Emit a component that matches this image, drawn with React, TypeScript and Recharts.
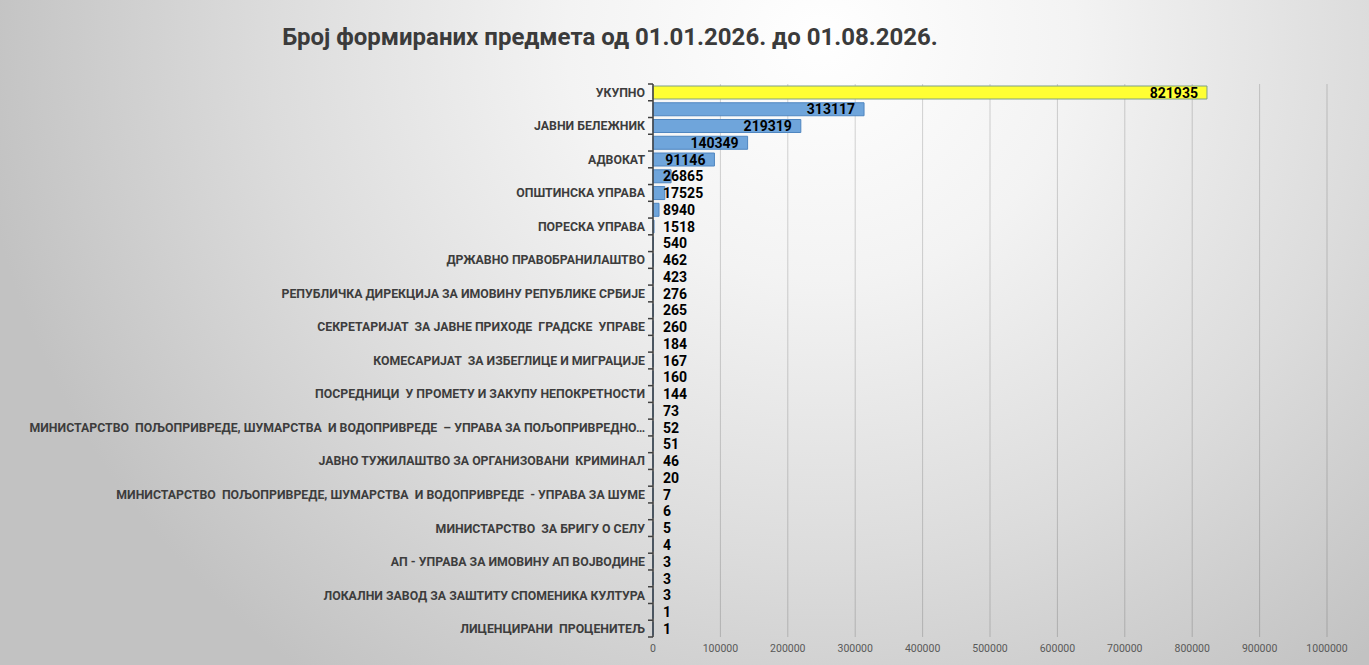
import React from 'react';
import { BarChart, Bar, XAxis, YAxis, CartesianGrid, Cell, LabelList } from 'recharts';

const categories: string[] = [
  'УКУПНО',
  '',
  'ЈАВНИ БЕЛЕЖНИК',
  '',
  'АДВОКАТ',
  '',
  'ОПШТИНСКА УПРАВА',
  '',
  'ПОРЕСКА УПРАВА',
  '',
  'ДРЖАВНО ПРАВОБРАНИЛАШТВО',
  '',
  'РЕПУБЛИЧКА ДИРЕКЦИЈА ЗА ИМОВИНУ РЕПУБЛИКЕ СРБИЈЕ',
  '',
  'СЕКРЕТАРИЈАТ  ЗА ЈАВНЕ ПРИХОДЕ  ГРАДСКЕ  УПРАВЕ',
  '',
  'КОМЕСАРИЈАТ  ЗА ИЗБЕГЛИЦЕ И МИГРАЦИЈЕ',
  '',
  'ПОСРЕДНИЦИ  У ПРОМЕТУ И ЗАКУПУ НЕПОКРЕТНОСТИ',
  '',
  'МИНИСТАРСТВО  ПОЉОПРИВРЕДЕ, ШУМАРСТВА  И ВОДОПРИВРЕДЕ  – УПРАВА ЗА ПОЉОПРИВРЕДНО…',
  '',
  'ЈАВНО ТУЖИЛАШТВО ЗА ОРГАНИЗОВАНИ  КРИМИНАЛ',
  '',
  'МИНИСТАРСТВО  ПОЉОПРИВРЕДЕ, ШУМАРСТВА  И ВОДОПРИВРЕДЕ  - УПРАВА ЗА ШУМЕ',
  '',
  'МИНИСТАРСТВО  ЗА БРИГУ О СЕЛУ',
  '',
  'АП - УПРАВА ЗА ИМОВИНУ АП ВОЈВОДИНЕ',
  '',
  'ЛОКАЛНИ ЗАВОД ЗА ЗАШТИТУ СПОМЕНИКА КУЛТУРА',
  '',
  'ЛИЦЕНЦИРАНИ  ПРОЦЕНИТЕЉ',
];

const values: number[] = [
  821935, 313117, 219319, 140349, 91146, 26865, 17525, 8940, 1518, 540, 462,
  423, 276, 265, 260, 184, 167, 160, 144, 73, 52, 51, 46, 20, 7, 6, 5, 4, 3,
  3, 3, 1, 1,
];

const xTicks: number[] = [0, 100000, 200000, 300000, 400000, 500000, 600000, 700000, 800000, 900000, 1000000];

const TITLE = 'Број формираних предмета од 01.01.2026. до 01.08.2026.';

const data = categories.map((name, i) => ({ key: 'c' + i, name, value: values[i] }));

const W = 1369;
const H = 665;
const M = { top: 84, right: 42, bottom: 0, left: 0 };
const Y_W = 653;
const X_H = 28;
const PLOT_H = H - M.top - M.bottom - X_H;
const BAND = PLOT_H / data.length;
const FONT = 'Roboto, "Noto Sans", "Liberation Sans", sans-serif';

const CatTick = (props: any) => {
  const { y, payload, index } = props;
  const idx = typeof index === 'number' ? index : data.findIndex((d) => d.key === payload.value);
  const label = data[idx] ? data[idx].name : '';
  const ax = Y_W;
  const topY = y - BAND / 2;
  const botY = y + BAND / 2;
  return (
    <g>
      <line x1={ax - 5} x2={ax} y1={topY} y2={topY} stroke="#404040" strokeWidth={1.5} />
      {idx === data.length - 1 && (
        <line x1={ax - 5} x2={ax} y1={botY} y2={botY} stroke="#404040" strokeWidth={1.5} />
      )}
      {label && (
        <text
          x={ax - 8}
          y={y}
          dy="0.36em"
          textAnchor="end"
          fill="#3d3d3d"
          fontFamily={FONT}
          fontWeight={700}
          fontSize={12.3}
          style={{ whiteSpace: 'pre' }}
        >
          {label}
        </text>
      )}
    </g>
  );
};

const ValueLabel = (props: any) => {
  const { x, y, width, height, value } = props;
  const text = String(value);
  const tw = text.length * 7.9;
  const end = x + width - 9;
  const minStart = x + 10;
  let tx = end;
  let anchor: 'start' | 'end' = 'end';
  if (end - tw < minStart) {
    tx = minStart;
    anchor = 'start';
  }
  return (
    <text
      x={tx}
      y={y + height / 2}
      dy="0.36em"
      textAnchor={anchor}
      fill="#000000"
      fontFamily={FONT}
      fontWeight={700}
      fontSize={14}
    >
      {text}
    </text>
  );
};

export default function App() {
  return (
    <div
      style={{
        position: 'absolute',
        left: 0,
        top: 0,
        width: W,
        height: H,
        overflow: 'hidden',
        background:
          'radial-gradient(ellipse 62% 120% at 60% 6%, #ffffff 0%, #f3f3f3 30%, #dcdcdc 65%, #c2c2c2 100%)',
      }}
    >
      <div
        style={{
          position: 'absolute',
          left: 610,
          top: 19,
          transform: 'translateX(-50%)',
          whiteSpace: 'nowrap',
          fontFamily: FONT,
          fontWeight: 700,
          fontSize: 24,
          color: '#3b3b3b',
          lineHeight: '36px',
        }}
      >
        {TITLE}
      </div>
      <BarChart width={W} height={H} data={data} layout="vertical" margin={M}>
        <CartesianGrid horizontal={false} stroke="rgba(0,0,0,0.17)" />
        <XAxis
          type="number"
          domain={[0, 1000000]}
          ticks={xTicks}
          interval={0}
          height={X_H}
          axisLine={false}
          tickLine={false}
          tick={{ fill: '#595959', fontSize: 10.5, fontFamily: FONT }}
        />
        <YAxis
          type="category"
          dataKey="key"
          width={Y_W}
          interval={0}
          tickLine={false}
          axisLine={{ stroke: '#404040', strokeWidth: 1.5 }}
          tick={<CatTick />}
        />
        <Bar dataKey="value" barSize={13} isAnimationActive={false}>
          {data.map((d, i) => (
            <Cell
              key={d.key}
              fill={i === 0 ? '#FFFF33' : '#6FA5DB'}
              stroke={i === 0 ? '#7F9F86' : '#4F86C0'}
              strokeWidth={1}
            />
          ))}
          <LabelList dataKey="value" content={<ValueLabel />} />
        </Bar>
      </BarChart>
    </div>
  );
}
